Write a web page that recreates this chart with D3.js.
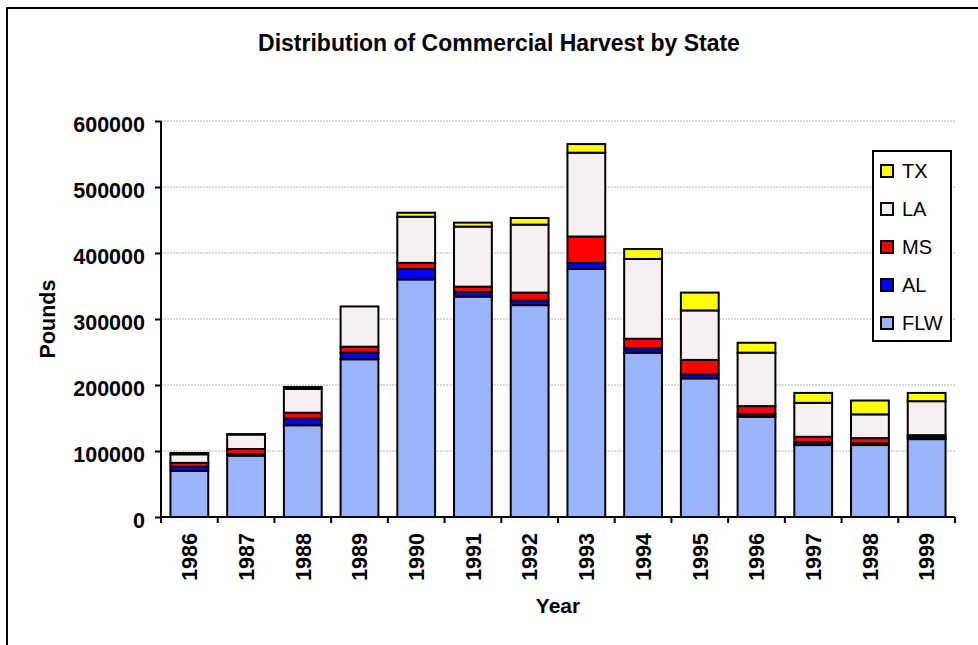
<!DOCTYPE html>
<html>
<head>
<meta charset="utf-8">
<script src="https://cdn.jsdelivr.net/npm/d3@7"></script>
<style>
    body { margin: 0; background: #fff; }
    svg { display: block; font-family: "Liberation Sans", Arial, sans-serif; }
</style>
</head>
<body>
<svg id="chart" width="978" height="645"></svg>
<script>
// values (pounds)
var years = ['1986', '1987', '1988', '1989', '1990', '1991', '1992',
             '1993', '1994', '1995', '1996', '1997', '1998', '1999'];
var flw = [70000, 93000, 139000, 239000, 360000, 334000, 321000, 376000, 249000, 210000, 152000, 109000, 109000, 118000];
var al  = [6000, 2000, 10000, 10000, 16000, 7000, 7000, 9000, 6500, 6000, 4000, 4500, 2500, 3000];
var ms  = [6000, 8000, 9000, 9000, 9000, 8000, 12000, 40000, 14500, 22000, 12000, 8000, 8000, 3000];
var la  = [13000, 22000, 36000, 61000, 70000, 91000, 103000, 127000, 121000, 75000, 81000, 51500, 36000, 51500];
var tx  = [2000, 500, 3000, 0, 6000, 6000, 10000, 13000, 15000, 27000, 15000, 15000, 21000, 12500];
var yTicks = [0, 100000, 200000, 300000, 400000, 500000, 600000];

var keys = ['FLW', 'AL', 'MS', 'LA', 'TX'];
var colors = { FLW: '#9ab4fe', AL: '#0000ff', MS: '#ff0000', LA: '#f6f0f0', TX: '#ffff00' };

var rows = years.map((y, i) => ({
    year: y, FLW: flw[i], AL: al[i], MS: ms[i], LA: la[i], TX: tx[i]
}));

var svg = d3.select('#chart');
var margin = { left: 161, right: 23, top: 121, bottom: 128 };
var width = 978 - margin.left - margin.right;
var height = 645 - margin.top - margin.bottom;

// outer chart frame (runs off the right and bottom edges)
svg.append('rect')
    .attr('x', 7).attr('y', 8)
    .attr('width', 1100).attr('height', 800)
    .attr('fill', 'none').attr('stroke', '#000').attr('stroke-width', 2);

svg.append('text')
    .attr('x', 499).attr('y', 51)
    .attr('text-anchor', 'middle')
    .style('font-size', '23px').style('font-weight', 'bold')
    .text('Distribution of Commercial Harvest by State');

var g = svg.append('g').attr('transform', `translate(${margin.left},${margin.top})`);

var x = d3.scaleBand().domain(years).range([0, width])
    .paddingInner(1 / 3).paddingOuter(1 / 6);
var y = d3.scaleLinear().domain([0, 600000]).range([height, 0]);

// gridlines
g.selectAll('.grid')
    .data(yTicks.slice(1))
    .enter().append('line')
    .attr('x1', 0).attr('x2', width)
    .attr('y1', d => y(d)).attr('y2', d => y(d))
    .attr('stroke', '#b4b4b4').attr('stroke-width', 1)
    .attr('stroke-dasharray', '2,1');

var series = d3.stack().keys(keys)(rows);

g.selectAll('.series')
    .data(series)
    .enter().append('g')
    .attr('fill', d => colors[d.key])
    .selectAll('rect')
    .data(d => d)
    .enter().append('rect')
    .attr('x', d => x(d.data.year))
    .attr('width', x.bandwidth())
    .attr('y', d => y(d[1]))
    .attr('height', d => y(d[0]) - y(d[1]))
    .attr('stroke', '#000').attr('stroke-width', 2);

// y axis
var yAxis = g.append('g')
    .call(d3.axisLeft(y).tickValues(yTicks).tickSize(6).tickPadding(10).tickFormat(d3.format('d')));
yAxis.select('.domain').attr('stroke-width', 2).attr('d', `M0,${height}V0`);
yAxis.selectAll('.tick line').attr('stroke-width', 2);
yAxis.selectAll('text')
    .attr('dy', '0.48em')
    .style('font-size', '21.5px').style('font-weight', 'bold').attr('fill', '#000');

// x axis, ticks on category boundaries
var xAxis = g.append('g').attr('transform', `translate(0,${height})`);
xAxis.append('line')
    .attr('x1', 0).attr('x2', width)
    .attr('stroke', '#000').attr('stroke-width', 2);
var step = x.step();
xAxis.selectAll('.bound')
    .data(d3.range(years.length + 1))
    .enter().append('line')
    .attr('x1', i => i * step).attr('x2', i => i * step)
    .attr('y1', 0).attr('y2', 6)
    .attr('stroke', '#000').attr('stroke-width', 2);
xAxis.selectAll('.lbl')
    .data(years)
    .enter().append('text')
    .attr('transform', d => `translate(${x(d) + x.bandwidth() / 2},16) rotate(-90)`)
    .attr('text-anchor', 'end')
    .attr('dy', '0.36em')
    .style('font-size', '21.5px').style('font-weight', 'bold')
    .text(d => d);

svg.append('text')
    .attr('x', margin.left + width / 2).attr('y', 613)
    .attr('text-anchor', 'middle')
    .style('font-size', '21px').style('font-weight', 'bold')
    .text('Year');

svg.append('text')
    .attr('transform', `translate(55,${margin.top + height / 2}) rotate(-90)`)
    .attr('text-anchor', 'middle')
    .style('font-size', '21.5px').style('font-weight', 'bold')
    .text('Pounds');

// legend, top entry is TX
var legend = svg.append('g');
legend.append('rect')
    .attr('x', 873).attr('y', 151).attr('width', 78).attr('height', 190)
    .attr('fill', '#fff').attr('stroke', '#000').attr('stroke-width', 2);
var items = legend.selectAll('.item')
    .data(keys.slice().reverse())
    .enter().append('g')
    .attr('transform', (d, i) => `translate(881,${171 + i * 38})`);
items.append('rect')
    .attr('x', 0).attr('y', -6).attr('width', 12).attr('height', 12)
    .attr('fill', d => colors[d]).attr('stroke', '#000').attr('stroke-width', 2);
items.append('text')
    .attr('x', 21).attr('dy', '0.36em')
    .style('font-size', '20px')
    .text(d => d);
</script>
</body>
</html>
